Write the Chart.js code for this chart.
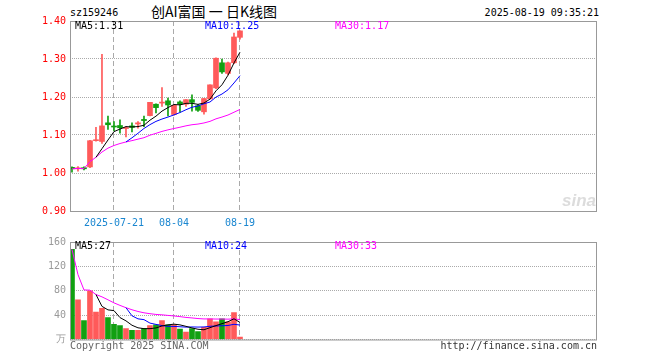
<!DOCTYPE html>
<html>
<head>
<meta charset="utf-8">
<script src="https://cdn.jsdelivr.net/npm/chart.js@4/dist/chart.umd.min.js"></script>
<style>
body { margin: 0; background: #fff; }
#wrap { position: relative; width: 660px; height: 360px; overflow: hidden;
        font-family: "DejaVu Sans Mono", monospace; font-size: 10px; color: #000; }
canvas { position: absolute; left: 0; }
.t { position: absolute; white-space: pre; line-height: 12px; }
</style>
</head>
<body>
<div id="wrap">
  <div class="t" style="left:70px;top:7px;">sz159246</div>
  <div class="t" style="left:151px;top:3px;font-family:'Noto Sans CJK SC';font-size:14px;line-height:17px;">创AI富国 一 日K线图</div>
  <div class="t" style="right:61px;top:7px;">2025-08-19 09:35:21</div>
  <canvas id="main" width="660" height="232" style="top:0"></canvas>
  <canvas id="vol" width="660" height="128" style="top:232px"></canvas>
  <div class="t" style="left:70px;top:340px;color:#666;">Copyright 2025 SINA.COM</div>
  <div class="t" style="right:63px;top:340px;color:#333;">http://finance.sina.com.cn</div>
</div>
<script>
// daily K data
const dates = ['07-10','07-11','07-14','07-15','07-16','07-17','07-18','07-21','07-22','07-23',
  '07-24','07-25','07-28','07-29','07-30','07-31','08-01','08-04','08-05','08-06',
  '08-07','08-08','08-11','08-12','08-13','08-14','08-15','08-18','08-19'];
const open  = [1.015,1.011,1.014,1.016,1.085,1.083,1.132,1.123,1.125,1.117,
  1.124,1.129,1.141,1.151,1.181,1.184,1.190,1.154,1.187,1.181,
  1.193,1.177,1.161,1.195,1.224,1.290,1.262,1.290,1.357];
const high  = [1.016,1.017,1.016,1.086,1.120,1.312,1.150,1.135,1.140,1.122,
  1.132,1.135,1.150,1.186,1.182,1.225,1.197,1.178,1.190,1.193,
  1.206,1.180,1.196,1.232,1.303,1.300,1.292,1.368,1.374];
const low   = [1.002,1.005,1.008,1.014,1.084,1.078,1.115,1.111,1.105,1.095,
  1.108,1.118,1.122,1.150,1.158,1.175,1.150,1.152,1.160,1.175,
  1.163,1.162,1.155,1.194,1.222,1.262,1.258,1.288,1.352];
const close = [1.011,1.013,1.011,1.085,1.087,1.124,1.127,1.121,1.119,1.119,
  1.120,1.132,1.138,1.186,1.172,1.186,1.179,1.178,1.181,1.193,
  1.186,1.165,1.196,1.232,1.302,1.266,1.290,1.358,1.374];
const volume = [148,65,31,80,45,51,36,25,23,18,
  15,15,18,23,24,31,24,24,17,12,
  18,13,20,34,29,34,29,44,4];

const xTickIdx = [7, 17, 28];
const xTickLabels = ['2025-07-21', '08-04', '08-19'];
const priceTicks = [0.9, 1.0, 1.1, 1.2, 1.3, 1.4];
const volTicks = [0, 40, 80, 120, 160];
const priceMaText = ['MA5:1.31', 'MA10:1.25', 'MA30:1.17'];
const volMaText = ['MA5:27', 'MA10:24', 'MA30:33'];

const UP = '#ff5a5a', DOWN = '#11a011';
const MA_COLORS = ['#000000', '#0000ff', '#ff00ff'];
const MONO = 'DejaVu Sans Mono';

const colors = close.map((c, i) => c >= open[i] ? UP : DOWN);

// moving average; MA30 uses what is available (new listing)
function ma(arr, n, partial) {
  return arr.map((v, i) => {
    if (i < n - 1 && !partial) return null;
    const s = arr.slice(Math.max(0, i - n + 1), i + 1);
    return { x: i, y: s.reduce((a, b) => a + b, 0) / s.length };
  }).filter(p => p);
}

function maSets(arr) {
  return [ma(arr, 5), ma(arr, 10), ma(arr, 30, true)].map((d, k) => ({
    type: 'line', data: d, borderColor: MA_COLORS[k], borderWidth: 1,
    pointRadius: 0, tension: 0, order: 0
  }));
}

const X_MIN = -0.33, X_MAX = 87.5;

const frame = {
  id: 'frame',
  afterDraw(chart, args, opts) {
    const { ctx, chartArea: a } = chart;
    ctx.save();
    ctx.strokeStyle = '#999';
    ctx.lineWidth = 1;
    ctx.strokeRect(a.left + 0.5, a.top + 0.5, a.right - a.left - 1, a.bottom - a.top);
    ctx.font = '10px "' + MONO + '"';
    ctx.textBaseline = 'middle';
    const xs = [75, 205, 335];
    opts.labels.forEach((t, k) => {
      ctx.fillStyle = MA_COLORS[k];
      ctx.fillText(t, xs[k], opts.labelY);
    });
    if (opts.logo) {
      ctx.font = 'italic bold 17px "Liberation Sans"';
      ctx.fillStyle = '#dcdcdc';
      ctx.fillText('sina', 562, 201);
    }
    ctx.restore();
  }
};

const xScale = (showTicks, h) => ({
  type: 'linear', min: X_MIN, max: X_MAX, offset: false,
  afterBuildTicks: s => { s.ticks = xTickIdx.map(v => ({ value: v })); },
  afterFit: s => { s.height = h; },
  grid: { color: '#aaa', drawTicks: false, offset: false },
  border: { display: false, dash: [5, 3] },
  ticks: {
    display: showTicks, autoSkip: false, maxRotation: 0, padding: 6,
    color: '#1a86d0', font: { family: MONO, size: 10 },
    callback: v => xTickLabels[xTickIdx.indexOf(v)]
  }
});

new Chart(document.getElementById('main'), {
  data: {
    datasets: [
      ...maSets(close),
      { type: 'bar', data: close.map((c, i) => ({ x: i, y: [open[i], c] })),
        backgroundColor: colors, barThickness: 5, minBarLength: 1, grouped: false, order: 1 },
      { type: 'bar', data: close.map((c, i) => ({ x: i, y: [low[i], high[i]] })),
        backgroundColor: colors, barThickness: 1, minBarLength: 1, grouped: false, order: 2 }
    ]
  },
  options: {
    responsive: false, animation: false, events: [],
    layout: { padding: { top: 21, right: 63, left: 0, bottom: 0 } },
    plugins: { legend: { display: false }, tooltip: { enabled: false },
      frame: { labels: priceMaText, labelY: 26.5, logo: true } },
    scales: {
      x: xScale(true, 21),
      y: {
        min: 0.9, max: 1.4,
        afterBuildTicks: s => { s.ticks = priceTicks.map(v => ({ value: v })); },
        afterFit: s => { s.width = 70; },
        grid: { color: '#aaa', drawTicks: false },
        border: { display: false, dash: [1, 1] },
        ticks: { color: '#f00', padding: 4, font: { family: MONO, size: 10 },
          callback: v => v.toFixed(2) }
      }
    }
  },
  plugins: [frame]
});

new Chart(document.getElementById('vol'), {
  data: {
    datasets: [
      ...maSets(volume),
      { type: 'bar', data: volume.map((v, i) => ({ x: i, y: v })),
        backgroundColor: colors, barThickness: 5, grouped: false, order: 1 }
    ]
  },
  options: {
    responsive: false, animation: false, events: [],
    layout: { padding: { top: 8, right: 63, left: 0, bottom: 0 } },
    plugins: { legend: { display: false }, tooltip: { enabled: false },
      frame: { labels: volMaText, labelY: 14, logo: false } },
    scales: {
      x: xScale(false, 20.5),
      y: {
        min: 0, max: 160,
        afterBuildTicks: s => { s.ticks = volTicks.map(v => ({ value: v })); },
        afterFit: s => { s.width = 70; },
        grid: { color: '#aaa', drawTicks: false },
        border: { display: false, dash: [1, 1] },
        ticks: { color: '#999', padding: 4, font: { family: MONO, size: 10 },
          callback: v => v === 0 ? '万' : String(v) }
      }
    }
  },
  plugins: [frame]
});
</script>
</body>
</html>
